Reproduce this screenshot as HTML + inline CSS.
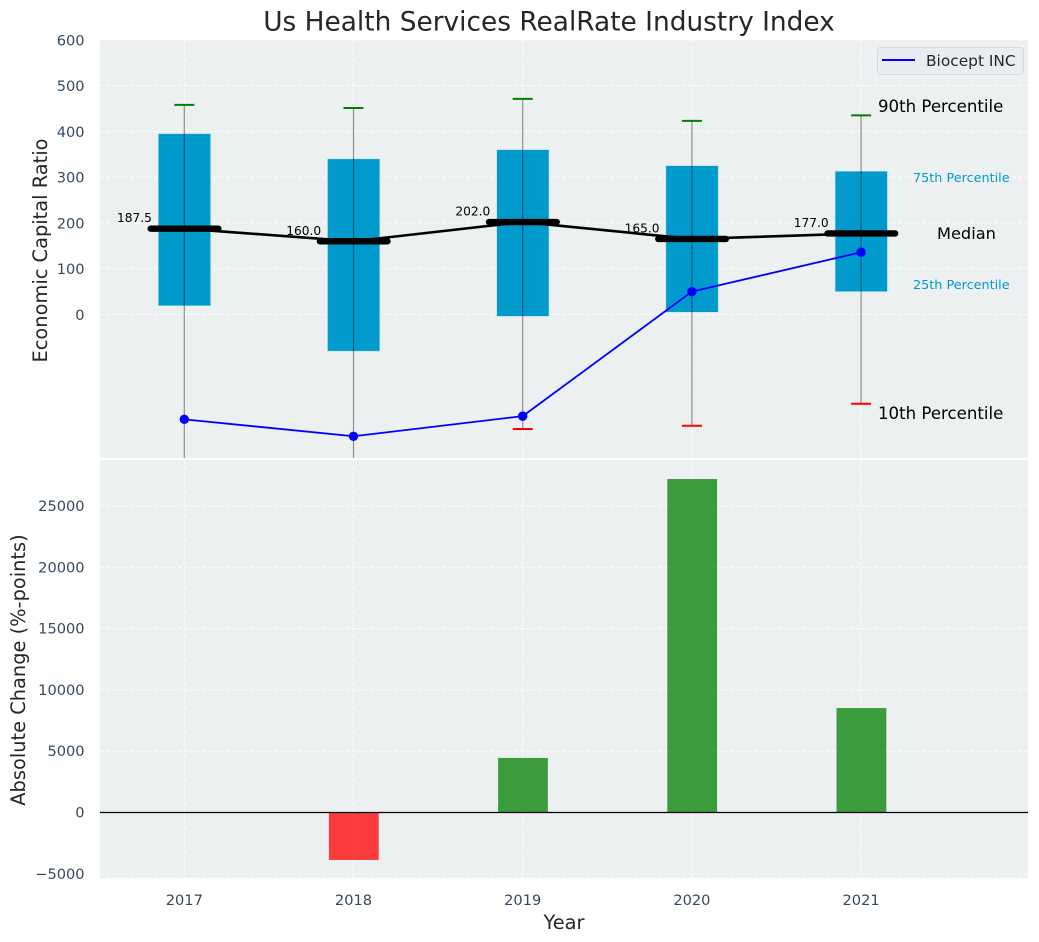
<!DOCTYPE html>
<html lang="en">
<head>
<meta charset="utf-8">
<title>Us Health Services RealRate Industry Index</title>
<style>
html,body{margin:0;padding:0;background:#fff;}
svg{display:block;font-family:"DejaVu Sans","Liberation Sans",sans-serif;}
</style>
</head>
<body>
<svg id="chart" xmlns="http://www.w3.org/2000/svg" width="1039" height="942" viewBox="0 0 1039 942">
  <defs>
    <clipPath id="top-clip"><rect x="100" y="40" width="928" height="418"></rect></clipPath>
    <clipPath id="bottom-clip"><rect x="100" y="460" width="928" height="418"></rect></clipPath>
  </defs>
  <text x="549" y="30.5" font-size="26.4" text-anchor="middle" fill="#262626">Us Health Services RealRate Industry Index</text>
  <rect x="100" y="40" width="928" height="418" fill="#ecf0f1"></rect>
  <rect x="100" y="460" width="928" height="418" fill="#ecf0f1"></rect>
  <g id="top-grid"></g>
  <g id="bottom-grid"></g>
  <g id="top-marks" clip-path="url(#top-clip)"></g>
  <g id="bottom-marks" clip-path="url(#bottom-clip)"></g>
  <g id="top-ticks"></g>
  <g id="bottom-ticks"></g>
  <g id="x-ticks"></g>
  <g id="labels"></g>
  <text transform="translate(47 250.5) rotate(-90)" font-size="19.4" text-anchor="middle" fill="#262626">Economic Capital Ratio</text>
  <text transform="translate(25 670) rotate(-90)" font-size="19.4" text-anchor="middle" fill="#262626">Absolute Change (%-points)</text>
  <text x="564" y="929" font-size="19.4" text-anchor="middle" fill="#262626">Year</text>
  <g>
    <rect x="877.5" y="47.5" width="146" height="27" rx="3" fill="#e9ecf1" stroke="#d5d8dc"></rect>
    <line x1="882" y1="60" x2="915" y2="60" stroke="#0000ff" stroke-width="2"></line>
    <text x="926" y="66" font-size="15.4" fill="#262626">Biocept INC</text>
  </g>
</svg>
<script>
const years = [2017, 2018, 2019, 2020, 2021];
const p90 = [458, 451, 471, 423, 435];
const p75 = [395, 340, 360, 325, 313];
const medianValues = [187.5, 160, 202, 165, 177];
const p25 = [19, -80, -4, 5, 50];
const p10 = [-340, -345, -250, -243, -195];
const biocept = [-229, -266, -222, 50, 136];
const absoluteChange = [0, -3870, 4450, 27200, 8520];
const topTicks = [0, 100, 200, 300, 400, 500, 600];
const bottomTicks = [-5000, 0, 5000, 10000, 15000, 20000, 25000];

const SVG_NS = 'http://www.w3.org/2000/svg';
const xScale = function (v) { return 184.3 + (v - 2017) * 169.2; };
const yTop = function (v) { return 314.5 - v * 0.4578; };
const yBottom = function (v) { return 812.5 - v * 0.01226; };
const tickColor = '#34495e';

function make(parentId, tag, props) {
  const node = document.createElementNS(SVG_NS, tag);
  Object.keys(props).forEach(function (k) { node.setAttribute(k, props[k]); });
  document.getElementById(parentId).appendChild(node);
  return node;
}

let el;
const gridStyle = { stroke: '#ffffff', 'stroke-width': 1, 'stroke-dasharray': '4 2', 'stroke-opacity': 0.85 };

topTicks.forEach(function (t) {
  el = make('top-grid', 'line', Object.assign({ x1: 100, x2: 1028, y1: yTop(t), y2: yTop(t) }, gridStyle));
  
  
  el = make('top-ticks', 'text', { x: 84.6, y: yTop(t) + 5.5, 'font-size': 14.6, 'text-anchor': 'end', fill: tickColor });
  el.textContent = String(t);
  
  
});

bottomTicks.forEach(function (t) {
  el = make('bottom-grid', 'line', Object.assign({ x1: 100, x2: 1028, y1: yBottom(t), y2: yBottom(t) }, gridStyle));
  
  
  el = make('bottom-ticks', 'text', { x: 84.6, y: yBottom(t) + 5, 'font-size': 14.6, 'text-anchor': 'end', fill: tickColor });
  el.textContent = String(t).replace('-', '\u2212');
  
  
});

years.forEach(function (yr) {
  const x = xScale(yr);
  el = make('top-grid', 'line', Object.assign({ x1: x, x2: x, y1: 40, y2: 458 }, gridStyle));
  
  
  el = make('bottom-grid', 'line', Object.assign({ x1: x, x2: x, y1: 460, y2: 878 }, gridStyle));
  
  
  el = make('x-ticks', 'text', { x: x, y: 905, 'font-size': 14.6, 'text-anchor': 'middle', fill: tickColor });
  el.textContent = String(yr);
  
  
});

years.forEach(function (yr, i) {
  const x = xScale(yr);
  el = make('top-marks', 'rect', {
    x: x - 26, y: yTop(p75[i]), width: 52.3, height: yTop(p25[i]) - yTop(p75[i]),
    fill: '#009acd', stroke: '#bfe3ef', 'stroke-width': 0.5
  });
  
  
});

years.forEach(function (yr, i) {
  const x = xScale(yr);
  el = make('top-marks', 'line', { x1: x, x2: x, y1: yTop(p90[i]), y2: yTop(p10[i]), stroke: '#000000', 'stroke-opacity': 0.42, 'stroke-width': 1.2 });
  
  
  el = make('top-marks', 'line', { x1: x - 10, x2: x + 10, y1: yTop(p90[i]), y2: yTop(p90[i]), stroke: '#008000', 'stroke-width': 2 });
  
  
  el = make('top-marks', 'line', { x1: x - 10, x2: x + 10, y1: yTop(p10[i]), y2: yTop(p10[i]), stroke: '#ff0000', 'stroke-width': 2 });
  
  
});

el = make('top-marks', 'polyline', {
  points: years.map(function (yr, i) { return xScale(yr) + ',' + yTop(medianValues[i]); }).join(' '),
  fill: 'none', stroke: '#000000', 'stroke-width': 2.6
});



years.forEach(function (yr, i) {
  const x = xScale(yr);
  el = make('top-marks', 'line', {
    x1: x - 33.6, x2: x + 34, y1: yTop(medianValues[i]), y2: yTop(medianValues[i]),
    stroke: '#000000', 'stroke-width': 6.4, 'stroke-linecap': 'round'
  });
  
  
  el = make('labels', 'text', { x: x - 32.4, y: yTop(medianValues[i]) - 6.5, 'font-size': 12.2, 'text-anchor': 'end', fill: '#000000' });
  el.textContent = medianValues[i].toFixed(1);
  
  
});

el = make('top-marks', 'polyline', {
  points: years.map(function (yr, i) { return xScale(yr) + ',' + yTop(biocept[i]); }).join(' '),
  fill: 'none', stroke: '#0000ff', 'stroke-width': 1.8
});



years.forEach(function (yr, i) {
  el = make('top-marks', 'circle', { cx: xScale(yr), cy: yTop(biocept[i]), r: 4.7, fill: '#0000ff' });
  
  
});

years.forEach(function (yr, i) {
  const v = absoluteChange[i];
  const y0 = yBottom(0);
  const y1 = yBottom(v);
  el = make('bottom-marks', 'rect', {
    x: xScale(yr) - 24.6, y: Math.min(y0, y1), width: 49.8, height: Math.abs(y1 - y0),
    fill: v < 0 ? '#ff0000' : '#008000', 'fill-opacity': 0.75
  });
  
  
});

el = make('bottom-marks', 'line', { x1: 100, x2: 1028, y1: yBottom(0), y2: yBottom(0), stroke: '#000000', 'stroke-width': 1.2 });



const last = years.length - 1;
el = make('labels', 'text', { x: 878, y: yTop(p90[last]) - 3.3, 'font-size': 16.6, fill: '#000000' });
el.textContent = '90th Percentile';


el = make('labels', 'text', { x: 878, y: yTop(p10[last]) + 15, 'font-size': 16.6, fill: '#000000' });
el.textContent = '10th Percentile';


el = make('labels', 'text', { x: 937, y: yTop(medianValues[last]) + 5.5, 'font-size': 16.2, fill: '#000000' });
el.textContent = 'Median';


el = make('labels', 'text', { x: 913, y: yTop(p75[last]) + 11, 'font-size': 12.8, fill: '#009acd' });
el.textContent = '75th Percentile';


el = make('labels', 'text', { x: 913, y: yTop(p25[last]) - 2.5, 'font-size': 12.8, fill: '#009acd' });
el.textContent = '25th Percentile';


</script>
</body>
</html>
